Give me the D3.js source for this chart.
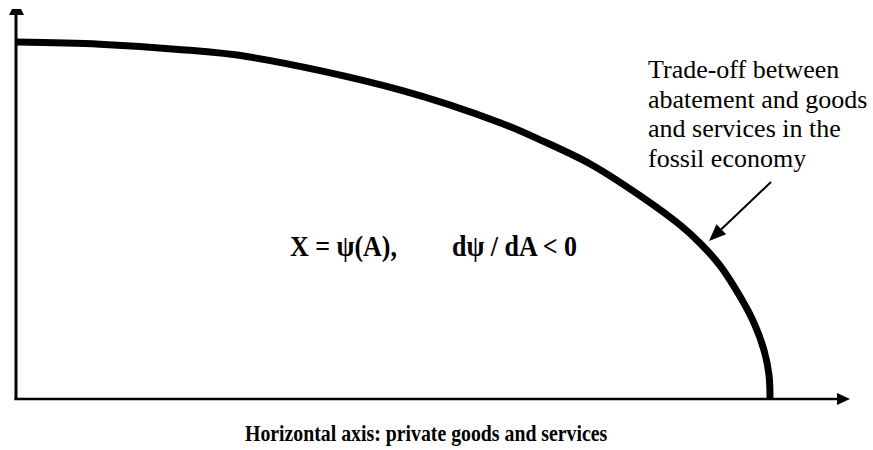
<!DOCTYPE html>
<html>
<head>
<meta charset="utf-8">
<script src="https://cdn.jsdelivr.net/npm/d3@7"></script>
<style>
  html, body { margin: 0; padding: 0; background: #fff; }
  svg { display: block; }
  text { font-family: "Liberation Serif", "Times New Roman", serif; fill: #000; }
</style>
</head>
<body>
<svg id="chart" width="873" height="450"></svg>
<script>
// Frontier: abatement share (x, 0..1 = curve end) vs goods X (y, 0..1 = curve top)
const frontierX = [0, 0.111, 0.211, 0.310, 0.509, 0.642, 0.695, 0.761, 0.828, 0.881, 0.907, 0.934, 0.963, 0.980, 0.992, 0.9987, 1.0];
const frontierY = [1.0, 0.994, 0.980, 0.958, 0.866, 0.774, 0.726, 0.659, 0.569, 0.487, 0.437, 0.373, 0.277, 0.207, 0.137, 0.067, 0.0];

const annotationLines = ["Trade-off between", "abatement and goods", "and services in the", "fossil economy"];
const formulaLeft = "X = \u03C8(A),";
const formulaRight = "d\u03C8 / dA < 0";
const axisTitle = "Horizontal axis: private goods and services";

const svg = d3.select("#chart");

const x = d3.scaleLinear().domain([0, 1]).range([16, 770]);
const y = d3.scaleLinear().domain([0, 1]).range([399, 42]);

const xAxisEnd = x.invert(840);
const yAxisEnd = y.invert(14);

// y axis line
svg.append("line")
  .attr("x1", x(0)).attr("y1", y(0) + 1)
  .attr("x2", x(0)).attr("y2", y(yAxisEnd))
  .attr("stroke", "#000").attr("stroke-width", 3);
svg.append("path")
  .attr("d", d3.line()([[x(0) - 4, y(yAxisEnd) - 5], [x(0) + 5, y(yAxisEnd) - 5], [x(0) + 8, y(yAxisEnd) + 1], [x(0) - 7, y(yAxisEnd) + 1]]) + "Z")
  .attr("fill", "#000");

// x axis line
svg.append("line")
  .attr("x1", x(0) - 1.5).attr("y1", y(0))
  .attr("x2", x(xAxisEnd)).attr("y2", y(0))
  .attr("stroke", "#000").attr("stroke-width", 2.5);
svg.append("path")
  .attr("d", d3.line()([[x(xAxisEnd) - 3, y(0) - 6], [x(xAxisEnd) + 10, y(0)], [x(xAxisEnd) - 3, y(0) + 6]]) + "Z")
  .attr("fill", "#000");

// frontier curve
const pts = frontierX.map((v, i) => [v, frontierY[i]]);
svg.append("path")
  .datum(pts)
  .attr("d", d3.line().x(d => x(d[0])).y(d => y(d[1])).curve(d3.curveCatmullRom.alpha(0.5)))
  .attr("fill", "none")
  .attr("stroke", "#000")
  .attr("stroke-width", 7);

// text helper (optional slight vertical stretch: reference glyphs are tall and narrow)
function stretchedText(tx, ty, size, weight, sy) {
  return svg.append("text")
    .attr("transform", `translate(${tx},${ty}) scale(1,${sy})`)
    .style("font-size", size + "px")
    .style("font-weight", weight || "normal");
}

// annotation text (one block of lines)
const ann = stretchedText(648, 78, 26, "normal", 1);
annotationLines.forEach((t, i) => {
  ann.append("tspan").attr("x", 0).attr("dy", i === 0 ? 0 : 29.7).text(t);
});

// annotation arrow
const ax1 = 771, ay1 = 182, ax2 = 709, ay2 = 241;
const ang = Math.atan2(ay2 - ay1, ax2 - ax1);
const headLen = 17, headW = 7;
const bx = ax2 - headLen * Math.cos(ang), by = ay2 - headLen * Math.sin(ang);
svg.append("line")
  .attr("x1", ax1).attr("y1", ay1).attr("x2", bx).attr("y2", by)
  .attr("stroke", "#000").attr("stroke-width", 2);
svg.append("path")
  .attr("d", d3.line()([
    [ax2, ay2],
    [bx + headW * Math.sin(ang), by - headW * Math.cos(ang)],
    [bx - headW * Math.sin(ang), by + headW * Math.cos(ang)]
  ]) + "Z")
  .attr("fill", "#000");

// formula
stretchedText(290, 256, 26, "bold", 1.15).text(formulaLeft);
stretchedText(452, 256, 26, "bold", 1.15).text(formulaRight);

// axis title
stretchedText(245, 441, 19.8, "bold", 1.15).text(axisTitle);
</script>
</body>
</html>
